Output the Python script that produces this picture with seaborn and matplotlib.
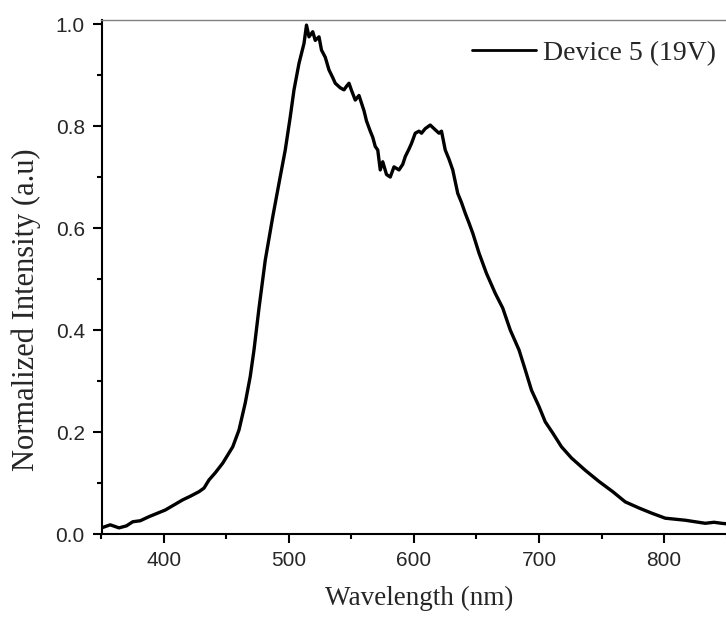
import matplotlib
matplotlib.use("Agg")
import matplotlib.pyplot as plt
import seaborn as sns
import pandas as pd
from matplotlib.ticker import MultipleLocator

wavelength = [350, 357, 364, 370, 375, 381, 388, 394, 401, 408, 415, 421, 428, 432, 436,
              441, 447, 451, 455, 460, 465, 469, 472, 476, 481, 487, 492, 497, 501, 504,
              508, 512, 514, 516, 519, 521, 524, 526, 529, 532, 535, 537, 541, 544, 546,
              548, 550, 553, 556, 558, 560, 562, 565, 567, 569, 571, 573, 575, 578, 581,
              584, 588, 591, 593, 596, 598, 601, 604, 606, 609, 613, 616, 620, 622, 625,
              628, 631, 635, 638, 641, 644, 647, 652, 658, 665, 671, 677, 684, 689, 694,
              700, 705, 711, 718, 726, 737, 748, 759, 769, 780, 790, 801, 809, 817, 825,
              833, 840, 846, 850]
intensity = [0.012, 0.018, 0.012, 0.016, 0.024, 0.026, 0.034, 0.040, 0.047, 0.057, 0.067,
             0.074, 0.083, 0.090, 0.106, 0.120, 0.139, 0.155, 0.171, 0.204, 0.257, 0.309,
             0.361, 0.443, 0.537, 0.622, 0.688, 0.753, 0.818, 0.871, 0.923, 0.962, 0.998,
             0.975, 0.985, 0.968, 0.975, 0.949, 0.935, 0.910, 0.895, 0.884, 0.875, 0.871,
             0.878, 0.884, 0.870, 0.851, 0.860, 0.845, 0.830, 0.810, 0.790, 0.778, 0.760,
             0.753, 0.714, 0.730, 0.705, 0.700, 0.720, 0.714, 0.725, 0.740, 0.755, 0.766,
             0.786, 0.790, 0.786, 0.795, 0.802, 0.795, 0.786, 0.790, 0.753, 0.735, 0.714,
             0.668, 0.650, 0.629, 0.610, 0.590, 0.551, 0.511, 0.472, 0.443, 0.400, 0.361,
             0.322, 0.282, 0.250, 0.220, 0.198, 0.171, 0.149, 0.125, 0.103, 0.083, 0.063,
             0.051, 0.041, 0.031, 0.029, 0.027, 0.024, 0.021, 0.023, 0.021, 0.020]
series_name = "Device 5 (19V)"
x_ticks = [400, 500, 600, 700, 800]
y_ticks = [0.0, 0.2, 0.4, 0.6, 0.8, 1.0]

df = pd.DataFrame({"Wavelength": wavelength, "Intensity": intensity, "Series": series_name})

sns.set_style("ticks")
plt.rcParams["font.family"] = ["Liberation Sans", "DejaVu Sans"]

fig = plt.figure(figsize=(7.26, 6.18), dpi=100)
ax = fig.add_axes([101.5 / 726, 84 / 618, 625 / 726, 514 / 618])

sns.lineplot(data=df, x="Wavelength", y="Intensity", hue="Series",
             palette=["black"], linewidth=2.4, ax=ax, estimator=None, sort=False)

ax.set_xlim(350, 850)
ax.set_ylim(0, 1.008)
ax.set_xticks(x_ticks)
ax.set_yticks(y_ticks)
ax.set_yticklabels([f"{v:.1f}" for v in y_ticks])
ax.xaxis.set_minor_locator(MultipleLocator(50))
ax.yaxis.set_minor_locator(MultipleLocator(0.1))
ax.tick_params(which="major", direction="out", length=6.5, width=1.5, labelsize=15, pad=5.5, color="black")
ax.tick_params(which="minor", direction="out", length=3.5, width=1.5, color="black")
for lab in ax.get_xticklabels() + ax.get_yticklabels():
    lab.set_family(["Liberation Sans", "DejaVu Sans"])

for s in ["left", "bottom"]:
    ax.spines[s].set_linewidth(1.5)
    ax.spines[s].set_color("black")
ax.spines["top"].set_linewidth(1.0)
ax.spines["top"].set_color("#808080")
ax.spines["right"].set_visible(False)

serif = ["Liberation Serif", "DejaVu Serif"]
ax.set_xlabel("Wavelength (nm)", fontsize=19.5, family=serif)
ax.set_ylabel("Normalized Intensity (a.u)", fontsize=22, family=serif)
ax.xaxis.set_label_coords(0.508, -0.100)
ax.yaxis.set_label_coords(-0.097, 0.436)

leg = ax.legend(loc="center right", bbox_to_anchor=(716 / 726, 1 - 53 / 618),
                bbox_transform=fig.transFigure, frameon=False, borderpad=0,
                borderaxespad=0, handlelength=2.3, handletextpad=0.25,
                prop={"family": serif, "size": 20})
for line in leg.get_lines():
    line.set_linewidth(2.0)

fig.savefig("out.png", dpi=100)
